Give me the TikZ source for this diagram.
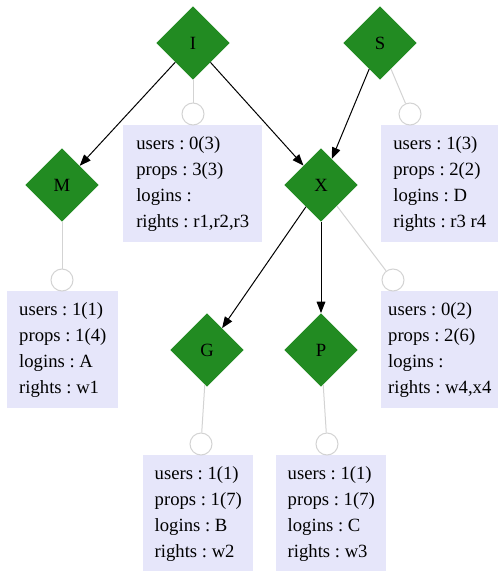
\documentclass[tikz,border=0pt]{standalone}
\usepackage{fontspec}
\setmainfont{Liberation Serif}
\usepackage{tikz}
\usetikzlibrary{arrows.meta, shapes.geometric}
\definecolor{forest}{RGB}{34,139,34}
\definecolor{lavend}{RGB}{230,230,250}
\definecolor{lgray}{RGB}{211,211,211}
\tikzset{%
	role/.style={
		diamond,
		fill=forest,
		minimum width=55pt,
		minimum height=55pt,
		inner sep=0pt,
		font=\fontsize{14pt}{19.5pt}\selectfont
	},
	port/.style={
		circle,
		draw=lgray,
		fill=white,
		line width=0.75pt,
		minimum size=16.5pt,
		inner sep=0pt
	},
	infobox/.style={
		fill=lavend,
		anchor=north west,
		align=left,
		inner sep=0pt,
		minimum height=87.75pt,
		font=\fontsize{14pt}{19.5pt}\selectfont\frenchspacing
	},
	link/.style={
		-{Triangle[length=8.5pt,width=6.5pt]},
		line width=0.75pt
	},
	tie/.style={
		draw=lgray,
		line width=0.75pt
	},
}
\begin{document}
\begin{tikzpicture}[x=0.75pt,y=-0.75pt]
	\useasboundingbox (0,0) rectangle (502,571);
	
	% Draw the roles
	\node[role] (I) at (193,43) {I};
	\node[role] (S) at (380,43) {S};
	\node[role] (M) at (62,185) {M};
	\node[role] (X) at (321,185) {X};
	\node[role] (G) at (207,350) {G};
	\node[role] (P) at (321,350) {P};
	
	% Draw the info boxes
	\node[infobox, minimum width=104.25pt] (bI) at (123,125) {users : 0(3)\\props : 3(3)\\logins :\\rights : r1,r2,r3};
	\node[infobox, minimum width=87.75pt] (bS) at (381,125) {users : 1(3)\\props : 2(2)\\logins : D\\rights : r3 r4};
	\node[infobox, minimum width=83.25pt] (bM) at (7,291) {users : 1(1)\\props : 1(4)\\logins : A\\rights : w1};
	\node[infobox, minimum width=87.75pt] (bX) at (381,291) {users : 0(2)\\props : 2(6)\\logins :\\rights : w4,x4};
	\node[infobox, minimum width=82.5pt] (bG) at (143,455) {users : 1(1)\\props : 1(7)\\logins : B\\rights : w2};
	\node[infobox, minimum width=82.5pt] (bP) at (276,455) {users : 1(1)\\props : 1(7)\\logins : C\\rights : w3};
	
	% Draw the ports
	\node[port] (cI) at (193,114) {};
	\node[port] (cS) at (410,114) {};
	\node[port] (cM) at (62,280) {};
	\node[port] (cX) at (393,280) {};
	\node[port] (cG) at (201,444) {};
	\node[port] (cP) at (327,444) {};
	
	% Draw the ties
	\draw[tie] (I) -- (cI);
	\draw[tie] (S) -- (cS);
	\draw[tie] (M) -- (cM);
	\draw[tie] (X) -- (cX);
	\draw[tie] (G) -- (cG);
	\draw[tie] (P) -- (cP);
	
	% Draw the arrows
	\draw[link] (I) -- (M);
	\draw[link] (I) -- (X);
	\draw[link] (S) -- (X);
	\draw[link] (X) -- (G);
	\draw[link] (X) -- (P);
\end{tikzpicture}
\end{document}
